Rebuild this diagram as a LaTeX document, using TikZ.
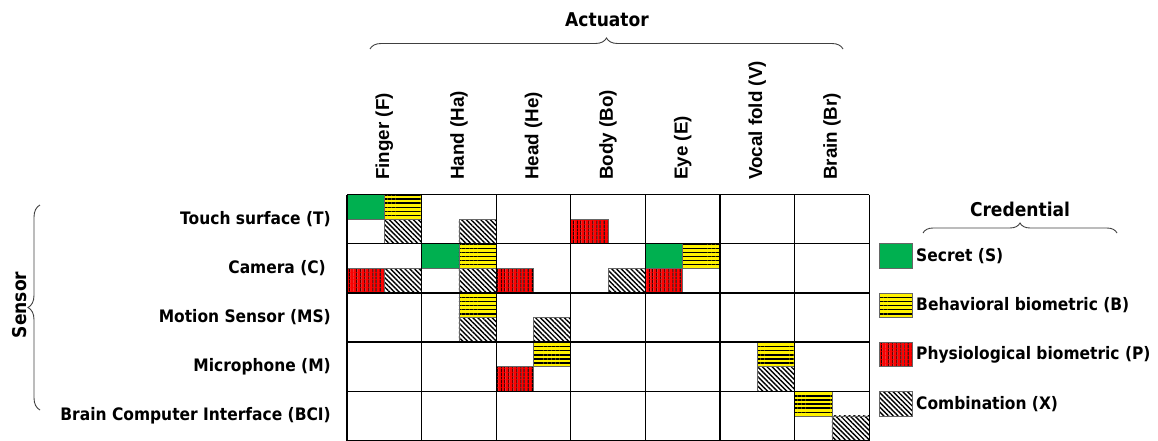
\documentclass[tikz,border=0pt]{standalone}
\usepackage{fontspec}
\usetikzlibrary{patterns.meta,decorations.pathreplacing}
\newfontfamily\tah[FakeStretch=0.9]{DejaVu Sans}
\newfontfamily\ari{Liberation Sans}
\definecolor{sgreen}{HTML}{00B050}
\newcommand\qb[5]{\path[#1] ({347+74.6*#2+37.3*#4},{194.5+49.2*#3+24.6*#5}) rectangle ++(37.3,24.6);}
\begin{document}
\begin{tikzpicture}[x=1pt,y=-1pt,
  lbl/.style={font=\tah\bfseries\fontsize{17.2}{20}\selectfont, inner sep=0pt},
  head/.style={font=\tah\bfseries\fontsize{19}{22}\selectfont, inner sep=0pt},
  col/.style={font=\ari\bfseries\fontsize{18.8}{22}\selectfont, inner sep=0pt, rotate=90, anchor=west},
  qedge/.style={postaction={draw=black!60, line width=0.7pt}},
  qS/.style={fill=sgreen, qedge},
  qB/.style={fill=yellow, postaction={pattern={Lines[angle=0,distance=4.1pt,line width=1.4pt]}, pattern color=black}, qedge},
  qP/.style={fill=red, postaction={pattern={Lines[angle=90,distance=4pt,line width=1.3pt]}, pattern color=black}, qedge},
  qX/.style={fill=white, postaction={pattern={Lines[angle=-45,distance=3.4pt,line width=1.4pt]}, pattern color=black}, qedge},
  brc/.style={decorate, draw=black!75, line width=0.9pt},
  gridline/.style={draw=black, line width=1.3pt},
]
\useasboundingbox (0,0) rectangle (1158,441);
\fill[white] (347,194.5) rectangle (869.2,440.5);
% row T
\qb{qS}{0}{0}{0}{0} \qb{qB}{0}{0}{1}{0} \qb{qX}{0}{0}{1}{1}
\qb{qX}{1}{0}{1}{1}
\qb{qP}{3}{0}{0}{1}
% row C
\qb{qP}{0}{1}{0}{1} \qb{qX}{0}{1}{1}{1}
\qb{qS}{1}{1}{0}{0} \qb{qB}{1}{1}{1}{0} \qb{qX}{1}{1}{1}{1}
\qb{qP}{2}{1}{0}{1}
\qb{qX}{3}{1}{1}{1}
\qb{qS}{4}{1}{0}{0} \qb{qB}{4}{1}{1}{0} \qb{qP}{4}{1}{0}{1}
% row MS
\qb{qB}{1}{2}{1}{0} \qb{qX}{1}{2}{1}{1}
\qb{qX}{2}{2}{1}{1}
% row M
\qb{qB}{2}{3}{1}{0} \qb{qP}{2}{3}{0}{1}
\qb{qB}{5}{3}{1}{0} \qb{qX}{5}{3}{1}{1}
% row BCI
\qb{qB}{6}{4}{0}{0} \qb{qX}{6}{4}{1}{1}
% grid
\foreach \i in {0,...,7} \draw[gridline] ({347+74.6*\i},194.5) -- ({347+74.6*\i},440.5);
\foreach \j in {0,...,5} \draw[gridline] (347,{194.5+49.2*\j}) -- (869.2,{194.5+49.2*\j});
% headings and braces
\node[head] (act) at (607,20) {Actuator};
\coordinate (actL) at (370,49);
\coordinate (actR) at (843,49);
\draw[brc, decoration={brace, amplitude=11pt}] (actL) -- (actR);
\node[head] (cred) at (1020,209) {Credential};
\coordinate (credL) at (923,233);
\coordinate (credR) at (1117,233);
\draw[brc, decoration={brace, amplitude=10pt}] (credL) -- (credR);
\node[head, rotate=90] (sens) at (20,305) {Sensor};
\coordinate (sensB) at (40,410);
\coordinate (sensT) at (40,205);
\draw[brc, decoration={brace, amplitude=12pt}] (sensB) -- (sensT);
% column labels
\node[col] (cF)  at (384.3,180) {Finger (F)};
\node[col] (cHa) at (458.9,180) {Hand (Ha)};
\node[col] (cHe) at (533.5,180) {Head (He)};
\node[col] (cBo) at (608.1,180) {Body (Bo)};
\node[col] (cE)  at (682.7,180) {Eye (E)};
\node[col] (cV)  at (757.3,180) {Vocal fold (V)};
\node[col] (cBr) at (831.9,180) {Brain (Br)};
% row labels
\node[lbl, anchor=east] (rT)   at (331,219.1) {Touch surface (T)};
\node[lbl, anchor=east] (rC)   at (326,268.3) {Camera (C)};
\node[lbl, anchor=east] (rMS)  at (331,317.5) {Motion Sensor (MS)};
\node[lbl, anchor=east] (rM)   at (331,366.7) {Microphone (M)};
\node[lbl, anchor=east] (rBCI) at (331,415.9) {Brain Computer Interface (BCI)};
% legend
\path[qS] (879,243.7) rectangle ++(33,24.6);
\path[qB] (879,292.9) rectangle ++(33,24.6);
\path[qP] (879,342.1) rectangle ++(33,24.6);
\path[qX] (879,391.3) rectangle ++(33,24.6);
\node[lbl, anchor=west] (lS) at (916,256.0) {Secret (S)};
\node[lbl, anchor=west] (lB) at (916,305.2) {Behavioral biometric (B)};
\node[lbl, anchor=west] (lP) at (916,354.4) {Physiological biometric (P)};
\node[lbl, anchor=west] (lX) at (916,403.6) {Combination (X)};
\end{tikzpicture}
\end{document}
